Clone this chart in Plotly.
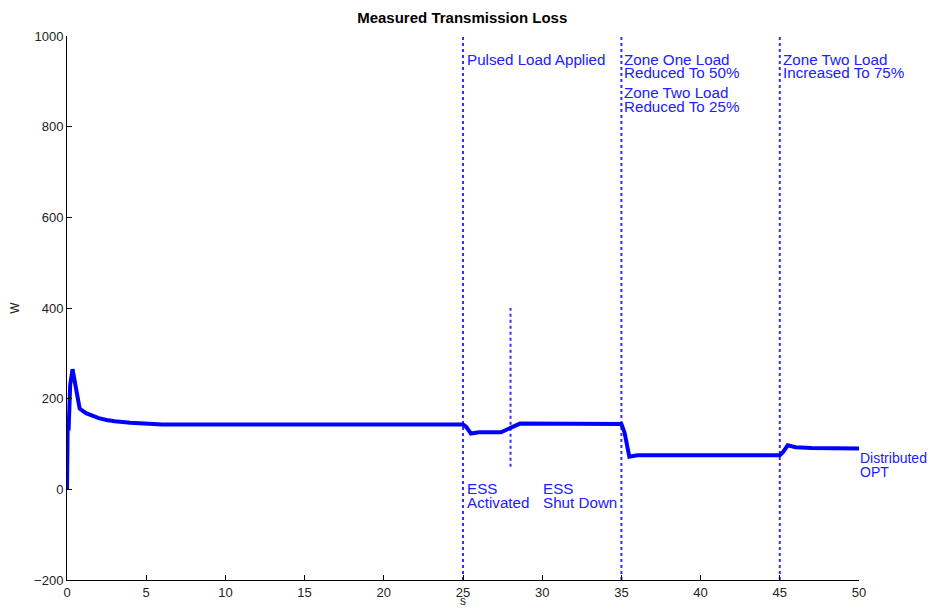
import plotly.graph_objects as go

# Data
t = [0, 0.05, 0.1, 0.15, 0.2, 0.35, 0.5, 0.8, 1.2, 1.6, 2, 2.5, 3, 4, 5, 6,
     25, 25.2, 25.5, 26, 27.4, 27.8, 28.3, 28.6, 35, 35.2, 35.5, 36,
     45, 45.2, 45.5, 46, 47, 50]
loss = [0, 160, 130, 180, 230, 265, 236, 178, 168, 162, 157, 153, 150, 147, 145, 143,
        143, 138, 123, 126, 126, 133, 142, 145, 144, 125, 72, 75, 75, 82, 97, 93, 91, 90]

event_times = [25, 35, 45]
event_range = [-200, 1000]
ess_shutdown_time = 28
ess_shutdown_range = [50, 400]

x_ticks = [0, 5, 10, 15, 20, 25, 30, 35, 40, 45, 50]
y_ticks = [-200, 0, 200, 400, 600, 800, 1000]

# (text, x, y, font size) annotations
labels = [
    ("Pulsed Load Applied", 25.19, 949, 15.2),
    ("Zone One Load", 35.1, 949, 15.2),
    ("Reduced To 50%", 35.1, 919, 15.2),
    ("Zone Two Load", 35.1, 876, 15.2),
    ("Reduced To 25%", 35.1, 845, 15.2),
    ("Zone Two Load", 45.17, 949, 15.2),
    ("Increased To 75%", 45.17, 919, 15.2),
    ("ESS", 25.19, 1, 15.2),
    ("Activated", 25.19, -30, 15.2),
    ("ESS", 29.97, 1, 15.2),
    ("Shut Down", 29.97, -30, 15.2),
    ("Distributed", 50.0, 70, 14),
    ("OPT", 50.0, 39, 14),
]

FONT = "Liberation Sans, Arial"

fig = go.Figure()

for et in event_times:
    fig.add_trace(go.Scatter(x=[et, et], y=event_range, mode="lines",
                             line=dict(color="#3030ff", width=2, dash="dot"),
                             showlegend=False, hoverinfo="skip"))
fig.add_trace(go.Scatter(x=[ess_shutdown_time, ess_shutdown_time], y=ess_shutdown_range,
                         mode="lines", line=dict(color="#3030ff", width=2, dash="dot"),
                         showlegend=False, hoverinfo="skip"))

fig.add_trace(go.Scatter(x=t, y=loss, mode="lines",
                         line=dict(color="#0000ff", width=4),
                         showlegend=False))

for txt, xx, yy, fs in labels:
    fig.add_annotation(x=xx, y=yy, xref="x", yref="y", text=txt, showarrow=False,
                       xanchor="left", yanchor="middle",
                       font=dict(family=FONT, size=fs, color="#2020ff"),
                       borderpad=0)

# x-axis title placed as an annotation
fig.add_annotation(x=0.5, y=-0.038, xref="paper", yref="paper", text="s",
                   showarrow=False, xanchor="center", yanchor="middle",
                   font=dict(family=FONT, size=12, color="#222"), borderpad=0)

axis_common = dict(showline=True, linecolor="black", linewidth=1, ticks="inside",
                   ticklen=5, tickcolor="black", showgrid=False, zeroline=False,
                   automargin=False,
                   tickfont=dict(family=FONT, size=13, color="#222"))

# page body has an 8px margin, so the figure is sized/offset to compensate
fig.update_layout(
    width=927, height=600,
    margin=dict(l=59, r=76, t=28, b=28),
    paper_bgcolor="white", plot_bgcolor="white",
    title=dict(text="<b>Measured Transmission Loss</b>", x=0.49, xanchor="center",
               y=0.983, yanchor="middle",
               font=dict(family=FONT, size=15, color="black")),
    xaxis=dict(range=[0, 50], tickvals=x_ticks, **axis_common),
    yaxis=dict(range=[-200, 1000], tickvals=y_ticks, title=dict(text="W",
               font=dict(family=FONT, size=12, color="#222")),
               **axis_common),
)

fig.write_html("out.html")
